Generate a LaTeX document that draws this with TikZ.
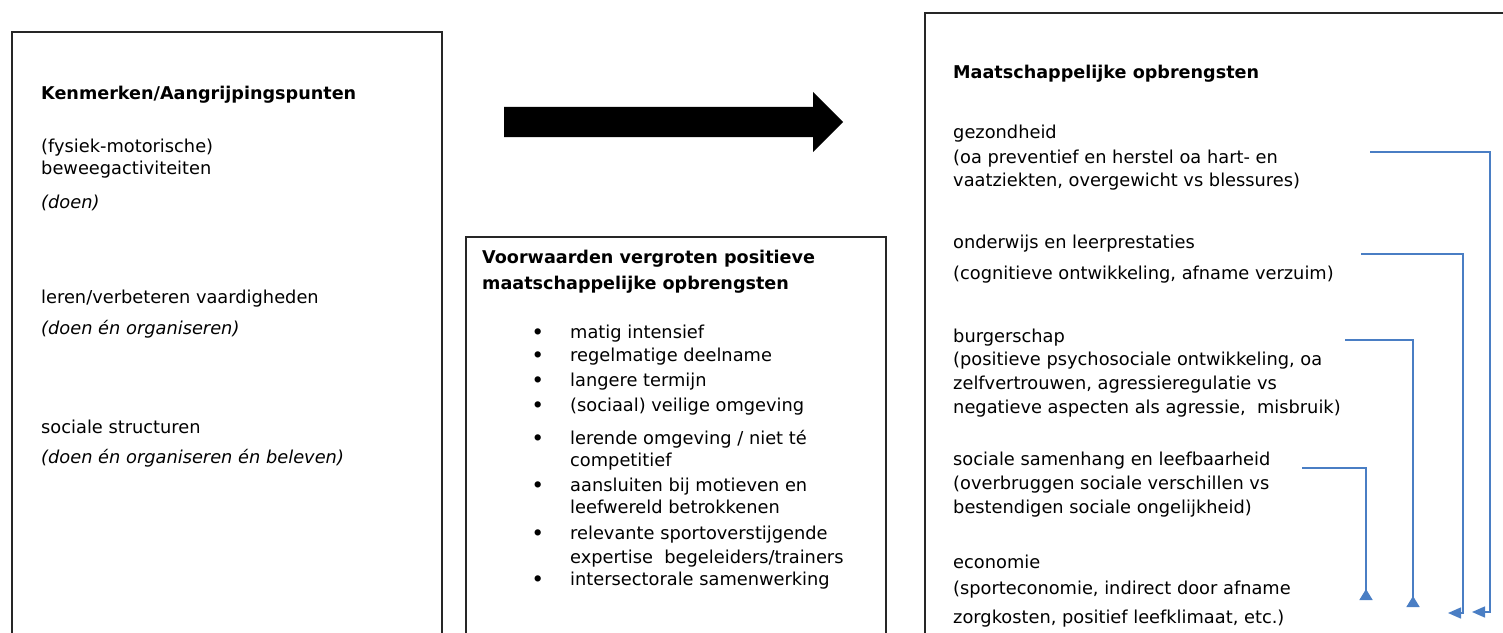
\documentclass[tikz,border=0pt]{standalone}
\usepackage{fontspec}
\setmainfont{DejaVu Sans}
\usetikzlibrary{shapes.arrows, arrows.meta, positioning}
\definecolor{linkblue}{RGB}{74,126,196}
\tikzstyle{panel} = [draw=black!85, line width=1.8pt, rectangle, anchor=north west, inner sep=0pt]
\tikzstyle{txt} = [anchor=base west, inner sep=0pt, align=left, font=\fontsize{17.8}{23}\selectfont]
\tikzstyle{head} = [txt, font=\fontsize{17.6}{26}\selectfont\bfseries]
\tikzstyle{link} = [draw=linkblue, line width=1.5pt]

\begin{document}
\begin{tikzpicture}[x=1pt, y=-1pt, >={Triangle[length=13pt, width=11pt]}]
    \useasboundingbox (0,0) rectangle (1503,632);
    \clip (0,0) rectangle (1503,632);

    % the three boxes, open at the bottom
    \node[panel, minimum width=430pt, minimum height=640pt] (kenmerken) at (11,31) {};
    \node[panel, minimum width=420pt, minimum height=420pt] (voorwaarden) at (465,236) {};
    \node[panel, minimum width=640pt, minimum height=660pt] (opbrengsten) at (924,12) {};

    % big arrow
    \node[single arrow, fill=black, inner xsep=0pt, inner ysep=15pt, minimum height=339pt,
          minimum width=60pt, single arrow head extend=15pt, anchor=west] (pijl) at (504,122) {};

    % left box (base = last line of a node)
    \node[head] (kenTitel) at (41,99) {Kenmerken/Aangrijpingspunten};
    \node[txt] (bewegen) at (41,174) {(fysiek-motorische)\\[-1pt] beweegactiviteiten};
    \node[txt] (doen) at (41,208) {\itshape (doen)};
    \node[txt] (leren) at (41,303) {leren/verbeteren vaardigheden};
    \node[txt] (doenOrg) at (41,334) {\itshape (doen én organiseren)};
    \node[txt] (structuren) at (41,433) {sociale structuren};
    \node[txt] (doenOrgBel) at (41,463) {\itshape (doen én organiseren én beleven)};

    % middle box
    \node[head] (vwTitel) at (482,289) {Voorwaarden vergroten positieve\\maatschappelijke opbrengsten};
    \node[txt] (lijst) at (532,338) {%
        \begin{tabular}[t]{@{}p{38pt}@{}l@{}}
        \textbf{\textbullet} & matig intensief\\
        \textbf{\textbullet} & regelmatige deelname\\[2pt]
        \textbf{\textbullet} & langere termijn\\[2pt]
        \textbf{\textbullet} & (sociaal) veilige omgeving\\[10pt]
        \textbf{\textbullet} & lerende omgeving / niet té\\[-1pt]
                    & competitief\\[2pt]
        \textbf{\textbullet} & aansluiten bij motieven en\\[-1pt]
                    & leefwereld betrokkenen\\[3pt]
        \textbf{\textbullet} & relevante sportoverstijgende\\[1pt]
                    & expertise \ begeleiders/trainers\\[-1pt]
        \textbf{\textbullet} & intersectorale samenwerking
        \end{tabular}};

    % right box
    \node[head] (obTitel) at (953,78) {Maatschappelijke opbrengsten};
    \node[txt] (gezondheid) at (953,186) {gezondheid\\[2pt] (oa preventief en herstel oa hart- en\\ vaatziekten, overgewicht vs blessures)};
    \node[txt] (onderwijs) at (953,279) {onderwijs en leerprestaties\\[8pt] (cognitieve ontwikkeling, afname verzuim)};
    \node[txt] (burgerschap) at (953,413) {burgerschap\\ (positieve psychosociale ontwikkeling, oa\\[1pt] zelfvertrouwen, agressieregulatie vs\\[1pt] negatieve aspecten als agressie, \ misbruik)};
    \node[txt] (samenhang) at (953,513) {sociale samenhang en leefbaarheid\\[1pt] (overbruggen sociale verschillen vs\\[1pt] bestendigen sociale ongelijkheid)};
    \node[txt] (economie) at (953,623) {economie\\[3pt] (sporteconomie, indirect door afname\\[6pt] zorgkosten, positief leefklimaat, etc.)};

    % blue connectors
    \coordinate (gezStart) at (1370,152);
    \coordinate (gezHoek) at (1490,152);
    \coordinate (gezEind) at (1472,612);
    \coordinate (ondStart) at (1361,254);
    \coordinate (ondHoek) at (1463,254);
    \coordinate (ondEind) at (1448,613);
    \coordinate (burStart) at (1345,340);
    \coordinate (burEind) at (1413,607);
    \coordinate (samStart) at (1302,468);
    \coordinate (samEind) at (1366,600);

    \draw[link, ->] (gezStart) -- (gezHoek) |- (gezEind);
    \draw[link, ->] (ondStart) -- (ondHoek) |- (ondEind);
    \draw[link, -{Triangle[reversed, length=11pt, width=13pt]}] (burStart) -| (burEind);
    \draw[link, -{Triangle[reversed, length=11pt, width=13pt]}] (samStart) -| (samEind);
\end{tikzpicture}
\end{document}
